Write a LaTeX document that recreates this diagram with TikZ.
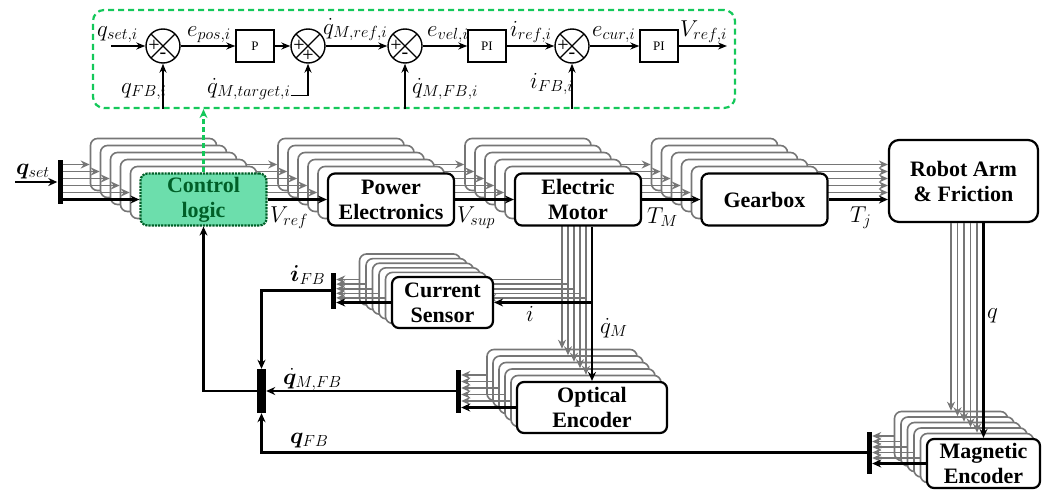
\RequirePackage{fix-cm}
\documentclass[tikz,border=0pt]{standalone}
\usepackage{fontspec}
\setmainfont{Liberation Serif}[BoldFont={Liberation Serif Bold}]
\usepackage{bm}
\usetikzlibrary{arrows.meta}
\definecolor{logicgreen}{RGB}{108,222,172}
\definecolor{logicdark}{RGB}{0,95,40}
\definecolor{loopgreen}{RGB}{20,200,90}
\definecolor{stackgray}{RGB}{118,118,118}
\tikzset{
  block/.style={draw=black, line width=2.2pt, rounded corners=7pt, fill=white,
    minimum width=126pt, minimum height=52pt, inner sep=0pt, align=center,
    font=\fontsize{22}{25}\selectfont\bfseries},
  blockcopy/.style={block, draw=stackgray, line width=1.6pt},
  signal/.style={line width=2.3pt, -{Stealth[length=9pt,width=8pt]}},
  signalcopy/.style={signal, draw=stackgray, line width=1.6pt},
  busbar/.style={fill=black, inner sep=0pt, minimum width=5pt},
  varlabel/.style={font=\fontsize{23}{24}\selectfont, inner sep=0pt, anchor=base west},
  sumpoint/.style={draw, circle, line width=1.4pt, minimum size=34pt, inner sep=0pt,
    path picture={\draw[line width=1.3pt] (path picture bounding box.north west) -- (path picture bounding box.south east)
      (path picture bounding box.north east) -- (path picture bounding box.south west);}},
  gainbox/.style={draw, line width=1.4pt, minimum width=38pt, minimum height=32pt, inner sep=0pt,
    font=\fontsize{13}{14}\selectfont},
  sumsign/.style={font=\fontsize{20}{20}\selectfont, inner sep=0pt},
  loopsig/.style={line width=1.8pt, -{Stealth[length=9pt,width=7pt]}}
}

\begin{document}
\begin{tikzpicture}[x=1pt,y=-1pt]
  \useasboundingbox (0,0) rectangle (1047,490);

  % boucle de regulation d'un axe
  \node[draw=loopgreen, line width=2.2pt, dash pattern=on 6pt off 4pt, rounded corners=11pt,
    minimum width=642pt, minimum height=98pt, inner sep=0pt] (loop) at (414,59) {};
  \node[sumpoint] (s1) at (163,46) {};
  \node[gainbox] (kp) at (255,46) {P};
  \node[sumpoint] (s2) at (308,46) {};
  \node[sumpoint] (s3) at (405,46) {};
  \node[gainbox] (pivel) at (487,46) {PI};
  \node[sumpoint] (s4) at (572,46) {};
  \node[gainbox] (picur) at (659,46) {PI};
  \foreach \s/\b in {s1/-,s2/+,s3/-,s4/-}{
    \node[sumsign] (\s-in) at ([xshift=-9pt]\s.center) {+};
    \node[sumsign] (\s-fb) at ([yshift=-10pt]\s.center) {\b};
  }
  \coordinate (qsi) at (111,46);
  \coordinate (vri) at (727,46);
  \draw[loopsig] (qsi) -- (s1.west);
  \draw[loopsig] (s1.east) -- (kp.west);
  \draw[loopsig] (kp.east) -- (s2.west);
  \draw[loopsig] (s2.east) -- (s3.west);
  \draw[loopsig] (s3.east) -- (pivel.west);
  \draw[loopsig] (pivel.east) -- (s4.west);
  \draw[loopsig] (s4.east) -- (picur.west);
  \draw[loopsig] (picur.east) -- (vri);
  \draw[loopsig] (s1.south |- loop.south) -- (s1.south);
  \draw[loopsig] (s3.south |- loop.south) -- (s3.south);
  \draw[loopsig] (s4.south |- loop.south) -- (s4.south);
  \node[varlabel] (lqseti) at (97,36) {$q_{set,i}$};
  \node[varlabel] (lepos) at (187,36) {$e_{pos,i}$};
  \node[varlabel] (lqrefi) at (323,34) {$\dot{q}_{M,ref,i}$};
  \node[varlabel] (level) at (427,36) {$e_{vel,i}$};
  \node[varlabel] (lirefi) at (510,36) {$i_{ref,i}$};
  \node[varlabel] (lecur) at (592,36) {$e_{cur,i}$};
  \node[varlabel] (lvrefi) at (680,36) {$V_{ref,i}$};
  \node[varlabel] (lqfbi) at (121,93) {$q_{FB,i}$};
  \node[varlabel] (lqtgt) at (207,93.5) {$\dot{q}_{M,target,i}$};
  \node[varlabel] (lqmfbi) at (412,93) {$\dot{q}_{M,FB,i}$};
  \node[varlabel] (lifbi) at (530,88) {$i_{FB,i}$};
  \draw[loopsig] ([yshift=-2pt]lqtgt.base east) -| (s2.south);

  % barres de bus
  \node[busbar, minimum height=44pt] (qbus) at (60,182) {};
  \node[busbar, minimum height=36pt] (csbus) at (333.5,290.5) {};
  \node[busbar, minimum height=43pt] (oebus) at (458.5,391) {};
  \node[busbar, minimum height=42pt] (mebus) at (869.5,452.5) {};
  \node[busbar, minimum height=44pt, minimum width=9pt] (fbbus) at (261.5,391) {};
  \node[block, minimum width=149pt, minimum height=82pt, rounded corners=10pt] (robot) at (963.5,181) {Robot Arm\\\& Friction};

  % copies empilees, de l'arriere vers l'avant
  \foreach \k in {5,4,...,1}{
    \node[blockcopy] (cl-\k) at (203.5-10*\k,199.5-7*\k) {};
    \node[blockcopy] (pe-\k) at (391-10*\k,199.5-7*\k) {};
    \node[blockcopy] (em-\k) at (578-10*\k,199.5-7*\k) {};
    \node[blockcopy] (gb-\k) at (764.5-10*\k,199.5-7*\k) {};
    \node[blockcopy, minimum width=101pt, minimum height=51pt] (cs-\k) at (442.5-6.5*\k,302.5-4.6*\k) {};
    \node[blockcopy, minimum width=150pt, minimum height=51pt] (oe-\k) at (592-6*\k,407.5-6.5*\k) {};
    \node[blockcopy, minimum width=113pt, minimum height=49pt] (me-\k) at (983.5-6.5*\k,463.5-5.5*\k) {};
    \draw[signalcopy] (qbus.east |- cl-\k.west) -- (cl-\k.west);
    \draw[signalcopy] (cl-\k.east) -- (pe-\k.west);
    \draw[signalcopy] (pe-\k.east) -- (em-\k.west);
    \draw[signalcopy] (em-\k.east) -- (gb-\k.west);
    \draw[signalcopy] (gb-\k.east) -- (robot.west |- gb-\k.east);
    \draw[signalcopy] (oe-\k.north |- em-\k.south) -- (oe-\k.north);
    \draw[signalcopy] (oe-\k.north |- cs-\k.east) -- (cs-\k.east);
    \draw[signalcopy] (me-\k.north |- robot.south) -- (me-\k.north);
    \draw[signalcopy] (cs-\k.west) -- (csbus.east |- cs-\k.west);
    \draw[signalcopy] (oe-\k.west) -- (oebus.east |- oe-\k.west);
    \draw[signalcopy] (me-\k.west) -- (mebus.east |- me-\k.west);
  }

  % blocs avant
  \node[block, fill=logicgreen, draw=logicdark, densely dotted, text=logicdark] (cl) at (203.5,199.5) {Control\\logic};
  \node[block] (pe) at (391,199.5) {Power\\Electronics};
  \node[block] (em) at (578,199.5) {Electric\\Motor};
  \node[block] (gb) at (764.5,199.5) {Gearbox};
  \node[block, minimum width=101pt, minimum height=51pt] (cs) at (442.5,302.5) {Current\\Sensor};
  \node[block, minimum width=150pt, minimum height=51pt] (oe) at (592,407.5) {Optical\\Encoder};
  \node[block, minimum width=113pt, minimum height=49pt] (me) at (983.5,463.5) {Magnetic\\Encoder};

  % signaux avant
  \coordinate (qin) at (15,182);
  \draw[signal] (qin) -- (qbus.west);
  \draw[signal] (qbus.east |- cl.west) -- (cl.west);
  \draw[signal] (cl.east) -- (pe.west);
  \draw[signal] (pe.east) -- (em.west);
  \draw[signal] (em.east) -- (gb.west);
  \draw[signal] (gb.east) -- (robot.west |- gb.east);
  \draw[signal] (em.south -| oe.north) -- (oe.north);
  \draw[signal] (oe.north |- cs.east) -- (cs.east);
  \draw[signal] (me.north |- robot.south) -- (me.north);
  \draw[signal] (cs.west) -- (csbus.east |- cs.west);
  \draw[signal] (oe.west) -- (oebus.east |- oe.west);
  \draw[signal] (me.west) -- (mebus.east |- me.west);
  \draw[signal] (csbus.west) -| (fbbus.north);
  \draw[signal] (oebus.west) -- (fbbus.east);
  \draw[signal] (mebus.west) -| (fbbus.south);
  \draw[signal] (fbbus.west) -| (cl.south);
  \draw[loopgreen, line width=2.2pt, dash pattern=on 5pt off 3pt, -{Stealth[length=9pt,width=8pt]}] (cl.north) -- (cl.north |- loop.south);

  % grandeurs
  \node[varlabel] (lqset) at (16,174) {$\bm{q}_{set}$};
  \node[varlabel] (lvref) at (270,222) {$V_{ref}$};
  \node[varlabel] (lvsup) at (457,222) {$V_{sup}$};
  \node[varlabel] (ltm) at (647,223) {$T_M$};
  \node[varlabel] (ltj) at (850,222) {$T_j$};
  \node[varlabel] (lifb) at (290,281) {$\bm{i}_{FB}$};
  \node[varlabel] (li) at (526,321) {$i$};
  \node[varlabel] (lqm) at (600,333) {$\dot{q}_M$};
  \node[varlabel] (lq) at (987,318) {$q$};
  \node[varlabel] (lqmfb) at (283,384) {$\dot{\bm{q}}_{M,FB}$};
  \node[varlabel] (lqfb) at (290,443) {$\bm{q}_{FB}$};
\end{tikzpicture}
\end{document}
